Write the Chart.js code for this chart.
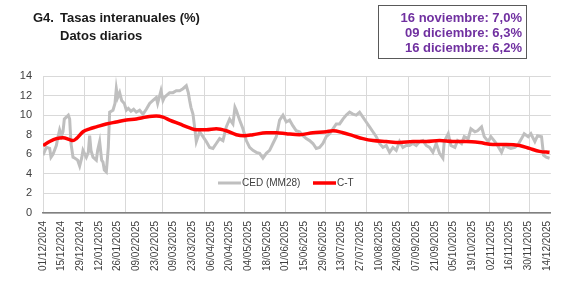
<!DOCTYPE html>
<html>
<head>
<meta charset="utf-8">
<script src="https://cdn.jsdelivr.net/npm/chart.js@4.4.1/dist/chart.umd.min.js"></script>
<style>
  body { margin: 0; background: #fff; }
  #wrap { position: relative; width: 567px; height: 286px; }
  #chart { position: absolute; left: 0; top: 0; }
  .ttl { position: absolute; font: bold 13px "Liberation Sans", Arial, sans-serif; color: #1a1a1a; white-space: nowrap; }
  #box { position: absolute; left: 378px; top: 5px; width: 149px; height: 54px; border: 1px solid #595959; box-sizing: border-box;
         text-align: right; padding: 4px 4px 0 0; font: bold 13px "Liberation Sans", Arial, sans-serif; color: #7030a0; line-height: 15px; }
</style>
</head>
<body>
<div id="wrap">
  <canvas id="chart" width="567" height="286"></canvas>
  <div class="ttl" style="left:33px;top:10px">G4.</div>
  <div class="ttl" style="left:60px;top:10px">Tasas interanuales (%)</div>
  <div class="ttl" style="left:60px;top:28px">Datos diarios</div>
  <div id="box">
    <div>16 noviembre: 7,0%</div>
    <div>09 diciembre: 6,3%</div>
    <div>16 diciembre: 6,2%</div>
  </div>
</div>
<script>
// días contados desde el 01/12/2024
const tickLabels = ['01/12/2024','15/12/2024','29/12/2024','12/01/2025','26/01/2025','09/02/2025','23/02/2025',
  '09/03/2025','23/03/2025','06/04/2025','20/04/2025','04/05/2025','18/05/2025','01/06/2025','15/06/2025',
  '29/06/2025','13/07/2025','27/07/2025','10/08/2025','24/08/2025','07/09/2025','21/09/2025','05/10/2025',
  '19/10/2025','02/11/2025','16/11/2025','30/11/2025','14/12/2025'];
const monthStarts = [0, 31, 62, 90, 121, 151, 182, 212, 243, 274, 304, 335, 365];

const cedDays = [0,2.5,5,6,7.5,10,11,12.5,14,15,16,19,20,21,22.5,24,26,27.5,29,30,32.5,34,35,36,37.5,40,41,42.5,44,45,46,47.5,49,50,
  52.5,54,55,56,57.5,59,61,62.5,64,66,68,70,72.5,75,77.5,80,82.5,85,86,88.5,90,91,92.5,95,97.5,100,102.5,105,107.5,109,110,111,112.5,114,115,
  117.5,120,122.5,125,127.5,130,132.5,135,137.5,140,142.5,144,145,147.5,150,152.5,155,157.5,160,162.5,165,167.5,170,172.5,175,177.5,
  180,182.5,185,187.5,190,192.5,195,197.5,200,202.5,205,207.5,210,212.5,215,217.5,220,222.5,225,227.5,230,232.5,235,237.5,240,242.5,
  245,247.5,250,252.5,255,257.5,260,262.5,265,267.5,270,272.5,275,277.5,280,282.5,285,287.5,290,292.5,295,297.5,300,301,304,306,309,
  311,314,316,319,321,324,326,329,331,334,336,339,341,344,346,349,351,354,356,359,361,364,366,369,371,374,375.5,377.5,380];
const cedValues = [5.9,6.7,6.6,5.7,6.0,6.9,7.6,8.5,7.9,8.3,9.6,10.0,9.6,7.1,5.7,5.6,5.4,4.8,5.6,6.4,5.7,6.2,7.9,6.4,5.7,5.4,6.4,7.3,5.4,5.2,4.4,4.2,6.7,10.3,
  10.5,11.2,12.7,11.8,12.3,11.5,11.2,10.5,10.7,10.4,10.6,10.3,10.5,10.1,10.6,11.2,11.5,11.8,11.2,12.5,11.5,11.8,12.0,12.3,12.3,12.5,12.5,12.7,13.0,12.3,11.5,10.8,10.1,8.5,7.3,
  8.3,7.8,7.3,6.7,6.6,7.1,7.6,7.4,8.8,9.6,9.1,10.8,10.5,9.5,8.6,7.4,6.7,6.4,6.2,6.1,5.6,6.1,6.4,7.1,7.8,9.5,
  10.0,9.3,9.5,8.9,8.4,8.3,7.9,7.6,7.4,7.1,6.6,6.7,7.1,7.8,8.1,8.6,9.1,9.1,9.6,10.0,10.3,10.1,10.0,10.3,9.8,9.3,
  8.8,8.3,7.8,7.1,6.7,6.9,6.2,6.7,6.4,7.3,6.7,6.9,6.9,7.1,6.9,7.3,7.4,6.9,6.7,6.2,7.1,6.1,5.6,7.3,8.1,6.9,6.7,
  7.4,7.1,7.8,7.6,8.6,8.3,8.4,8.8,7.8,7.3,7.8,7.3,6.9,6.2,6.9,6.7,6.6,6.7,6.9,7.6,8.1,7.8,8.1,7.3,7.9,7.8,5.9,5.7,5.6];

const ctDays = [0,5,10,15,20,22.5,25,30,35,40,47.5,55,62.5,70,77.5,85,90,95,102.5,110,115,122.5,130,137.5,145,151,157.5,167.5,175,
  182.5,192.5,202.5,212.5,217.5,225,232.5,240,247.5,257.5,267.5,277.5,287.5,297.5,307.5,317.5,327.5,337.5,347.5,357.5,365,372.5,380];
const ctValues = [6.9,7.3,7.6,7.7,7.5,7.4,7.6,8.3,8.6,8.8,9.1,9.3,9.5,9.6,9.8,9.9,9.8,9.5,9.1,8.7,8.5,8.5,8.6,8.4,8.0,7.9,8.0,8.2,8.2,
  8.1,8.0,8.2,8.3,8.4,8.2,7.9,7.6,7.4,7.3,7.2,7.3,7.3,7.4,7.3,7.3,7.2,7.0,7.0,6.9,6.6,6.3,6.2];

const pts = (d, v) => d.map((x, i) => ({ x, y: v[i] }));
const FONT = '"Liberation Sans", Arial, sans-serif';

// leyenda dentro del área del gráfico
const legendInside = {
  id: 'legendInside',
  afterDraw(chart) {
    const ctx = chart.ctx;
    const y = 183;
    const items = [[218, chart.data.datasets[0]], [313, chart.data.datasets[1]]];
    ctx.save();
    ctx.font = '10px ' + FONT;
    ctx.textBaseline = 'middle';
    for (const [x, ds] of items) {
      ctx.strokeStyle = ds.borderColor;
      ctx.lineWidth = ds.borderWidth;
      ctx.beginPath(); ctx.moveTo(x, y); ctx.lineTo(x + 23, y); ctx.stroke();
      ctx.fillStyle = '#404040';
      ctx.fillText(ds.label, x + 24, y);
    }
    ctx.restore();
  }
};

new Chart(document.getElementById('chart'), {
  type: 'line',
  data: {
    datasets: [
      { label: 'CED (MM28)', data: pts(cedDays, cedValues), borderColor: '#bfbfbf', borderWidth: 3,
        pointRadius: 0, tension: 0, order: 1 },
      { label: 'C-T', data: pts(ctDays, ctValues), borderColor: '#ff0000', borderWidth: 3.5,
        pointRadius: 0, cubicInterpolationMode: 'monotone', order: 0 }
    ]
  },
  options: {
    responsive: false,
    animation: false,
    layout: { padding: { top: 76, right: 16, left: 0, bottom: 0 } },
    plugins: { legend: { display: false }, tooltip: { enabled: false } },
    scales: {
      x: {
        type: 'linear', min: 0, max: 381,
        afterBuildTicks: s => { s.ticks = tickLabels.map((_, i) => ({ value: i * 14 })); },
        ticks: { autoSkip: false, minRotation: 90, maxRotation: 90, padding: 8, color: '#404040',
                 font: { size: 10, family: FONT }, callback: (v, i) => tickLabels[i] },
        grid: { display: false, drawTicks: false },
        border: { display: true, color: '#808080', width: 1.5 },
        afterFit: s => { s.height = 73; }
      },
      xg: {
        type: 'linear', position: 'top', min: 0, max: 381,
        afterBuildTicks: s => { s.ticks = monthStarts.map(v => ({ value: v })); },
        ticks: { display: false },
        grid: { color: '#d9d9d9', drawTicks: false },
        border: { display: false },
        afterFit: s => { s.height = 0; }
      },
      y: {
        min: 0, max: 14,
        ticks: { stepSize: 2, padding: 11, color: '#404040', font: { size: 11, family: FONT } },
        grid: { color: '#d9d9d9', drawTicks: false },
        border: { display: false },
        afterFit: s => { s.width = 43; }
      }
    }
  },
  plugins: [legendInside]
});
</script>
</body>
</html>
